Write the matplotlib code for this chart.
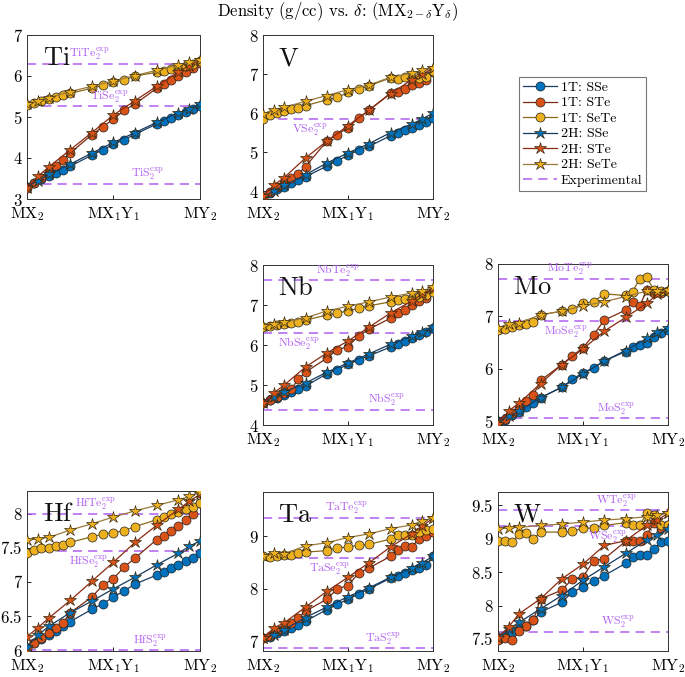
import matplotlib
matplotlib.use("Agg")
import matplotlib.pyplot as plt
from matplotlib.lines import Line2D
from matplotlib.ticker import FuncFormatter

plt.rcParams['mathtext.fontset'] = 'cm'
plt.rcParams['font.family'] = ['DejaVu Serif']

# ---------------- data ----------------
delta_1t = [0, 1/12, 2/12, 3/12, 4/12, 5/12, 6/12, 0.75, 0.875, 1.0, 1.125, 1.25,
            1.5, 19/12, 20/12, 21/12, 22/12, 23/12, 2.0]
delta_2h = [0, 0.125, 0.25, 0.5, 0.75, 1.0, 1.25, 1.5, 1.75, 1.875, 2.0]

xtick_pos = [0, 1, 2]
xtick_labels = [r'$\mathrm{MX_2}$', r'$\mathrm{MX_1Y_1}$', r'$\mathrm{MY_2}$']

series_labels = ['1T: SSe', '1T: STe', '1T: SeTe', '2H: SSe', '2H: STe', '2H: SeTe']

# Ti
ti_1t_sse = [3.30, 3.40, 3.48, 3.55, 3.63, 3.71, 3.80, 4.07, 4.20, 4.33, 4.45, 4.58, 4.83, 4.90, 4.98, 5.05, 5.13, 5.20, 5.28]
ti_1t_ste = [3.26, 3.38, 3.52, 3.66, 3.80, 3.95, 4.12, 4.57, 4.76, 4.95, 5.16, 5.32, 5.70, 5.81, 5.90, 6.00, 6.10, 6.20, 6.31]
ti_1t_sete = [5.30, 5.35, 5.40, 5.44, 5.49, 5.53, 5.58, 5.70, 5.77, 5.85, 5.90, 6.00, 6.09, 6.12, 6.16, 6.20, 6.24, 6.30, 6.37]
ti_2h_sse = [3.30, 3.45, 3.60, 3.85, 4.12, 4.38, 4.62, 4.87, 5.10, 5.20, 5.32]
ti_2h_ste = [3.28, 3.55, 3.78, 4.20, 4.62, 5.05, 5.40, 5.75, 6.10, 6.25, 6.38]
ti_2h_sete = [5.32, 5.38, 5.47, 5.62, 5.75, 5.88, 6.01, 6.14, 6.27, 6.33, 6.40]
ti_exp = {'TiS': 3.37, 'TiSe': 5.26, 'TiTe': 6.30}

# V
v_1t_sse = [3.85, 3.95, 4.05, 4.12, 4.20, 4.28, 4.37, 4.64, 4.78, 4.92, 5.05, 5.15, 5.42, 5.50, 5.57, 5.62, 5.70, 5.78, 5.87]
v_1t_ste = [3.82, 3.98, 4.10, 4.22, 4.33, 4.45, 4.63, 5.28, 5.45, 5.63, 5.87, 6.08, 6.51, 6.55, 6.61, 6.72, 6.78, 6.85, 7.05]
v_1t_sete = [5.86, 5.96, 6.00, 6.06, 6.10, 6.14, 6.19, 6.34, 6.40, 6.53, 6.61, 6.70, 6.90, 6.88, 6.92, 6.90, 6.90, 6.92, 7.08]
v_2h_sse = [3.85, 4.00, 4.15, 4.42, 4.72, 4.98, 5.22, 5.50, 5.72, 5.85, 6.00]
v_2h_ste = [3.88, 4.15, 4.35, 4.85, 5.28, 5.68, 6.08, 6.50, 6.85, 7.00, 7.15]
v_2h_sete = [5.98, 6.08, 6.15, 6.30, 6.45, 6.60, 6.72, 6.92, 7.02, 7.10, 7.15]
v_exp = {'VSe': 5.85}

# Nb
nb_1t_sse = [4.55, 4.62, 4.68, 4.75, 4.82, 4.90, 4.97, 5.28, 5.38, 5.52, 5.63, 5.73, 5.95, 6.03, 6.10, 6.17, 6.25, 6.32, 6.42]
nb_1t_ste = [4.55, 4.62, 4.70, 4.80, 4.90, 5.15, 5.32, 5.67, 5.88, 5.96, 6.23, 6.40, 6.67, 6.80, 6.88, 7.00, 7.10, 7.18, 7.35]
nb_1t_sete = [6.45, 6.47, 6.50, 6.52, 6.55, 6.58, 6.62, 6.75, 6.80, 6.85, 6.92, 6.98, 7.08, 7.12, 7.15, 7.17, 7.20, 7.25, 7.32]
nb_2h_sse = [4.57, 4.70, 4.82, 5.05, 5.32, 5.55, 5.78, 6.02, 6.22, 6.33, 6.45]
nb_2h_ste = [4.55, 4.80, 5.00, 5.45, 5.80, 6.10, 6.45, 6.80, 7.10, 7.28, 7.40]
nb_2h_sete = [6.47, 6.52, 6.57, 6.68, 6.85, 6.97, 7.08, 7.20, 7.30, 7.35, 7.45]
nb_exp = {'NbS': 4.38, 'NbSe': 6.29, 'NbTe': 7.62}

# Mo
mo_1t_sse = [5.00, 5.03, 5.12, 5.18, 5.27, 5.35, 5.45, 5.65, 5.80, 5.93, 6.02, 6.15, 6.33, 6.42, 6.45, 6.50, 6.60, 6.68, 6.75]
mo_1t_ste = [4.98, 5.05, 5.15, 5.25, 5.38, 5.50, 5.78, 6.08, 6.25, 6.40, 6.65, 6.93, 7.12, 7.28, 7.20, 7.50, 7.45, 7.45, 7.48]
mo_1t_sete = [6.74, 6.77, 6.80, 6.83, 6.86, 6.90, 7.03, 7.10, 7.14, 7.25, 7.28, 7.43, 7.40, 7.47, 7.72, 7.75, 7.50, 7.48, 7.48]
mo_2h_sse = [5.00, 5.10, 5.20, 5.45, 5.65, 5.90, 6.15, 6.35, 6.58, 6.70, 6.78]
mo_2h_ste = [4.95, 5.20, 5.35, 5.72, 6.08, 6.38, 6.72, 6.98, 7.25, 7.42, 7.48]
mo_2h_sete = [6.78, 6.85, 6.88, 7.03, 7.10, 7.20, 7.28, 7.38, 7.48, 7.48, 7.50]
mo_exp = {'MoS': 5.06, 'MoSe': 6.91, 'MoTe': 7.72}

# Hf
hf_1t_sse = [6.03, 6.10, 6.17, 6.22, 6.28, 6.35, 6.42, 6.60, 6.68, 6.78, 6.87, 6.97, 7.10, 7.15, 7.20, 7.25, 7.30, 7.35, 7.42]
hf_1t_ste = [6.03, 6.10, 6.18, 6.25, 6.32, 6.40, 6.55, 6.78, 6.95, 7.05, 7.22, 7.35, 7.62, 7.67, 7.75, 7.82, 7.90, 8.00, 8.15]
hf_1t_sete = [7.42, 7.47, 7.49, 7.50, 7.52, 7.54, 7.58, 7.66, 7.70, 7.72, 7.75, 7.81, 7.91, 7.95, 7.99, 8.02, 8.06, 8.10, 8.16]
hf_2h_sse = [6.05, 6.22, 6.35, 6.55, 6.72, 6.90, 7.07, 7.25, 7.42, 7.52, 7.60]
hf_2h_ste = [6.20, 6.33, 6.47, 6.73, 7.01, 7.29, 7.58, 7.83, 8.06, 8.18, 8.28]
hf_2h_sete = [7.61, 7.63, 7.65, 7.76, 7.85, 7.95, 8.04, 8.12, 8.20, 8.25, 8.32]
hf_exp = {'HfS': 6.00, 'HfSe': 7.45, 'HfTe': 8.00}

# Ta
ta_1t_sse = [7.05, 7.08, 7.15, 7.20, 7.25, 7.30, 7.38, 7.60, 7.70, 7.80, 7.90, 8.00, 8.20, 8.25, 8.30, 8.35, 8.40, 8.45, 8.62]
ta_1t_ste = [7.05, 7.10, 7.20, 7.25, 7.35, 7.45, 7.57, 7.80, 8.00, 8.06, 8.30, 8.40, 8.62, 8.75, 8.82, 8.80, 8.95, 9.00, 9.08]
ta_1t_sete = [8.62, 8.60, 8.62, 8.64, 8.65, 8.68, 8.70, 8.73, 8.78, 8.80, 8.83, 8.85, 8.95, 9.02, 9.03, 9.03, 9.08, 9.13, 9.15]
ta_2h_sse = [7.05, 7.12, 7.22, 7.45, 7.65, 7.85, 8.02, 8.22, 8.40, 8.50, 8.62]
ta_2h_ste = [7.05, 7.25, 7.35, 7.65, 7.95, 8.22, 8.50, 8.80, 9.05, 9.20, 9.35]
ta_2h_sete = [8.62, 8.68, 8.67, 8.82, 8.88, 8.98, 9.05, 9.15, 9.22, 9.30, 9.35]
ta_exp = {'TaS': 6.86, 'TaSe': 8.58, 'TaTe': 9.36}

# W
w_1t_sse = [7.50, 7.55, 7.60, 7.65, 7.70, 7.78, 7.90, 8.05, 8.20, 8.28, 8.37, 8.45, 8.63, 8.73, 8.75, 8.76, 8.85, 8.95, 8.97]
w_1t_ste = [7.48, 7.52, 7.48, 7.62, 7.70, 7.78, 8.10, 8.23, 8.40, 8.43, 8.67, 8.70, 8.96, 8.97, 8.96, 9.06, 9.23, 9.16, 9.20]
w_1t_sete = [8.97, 8.97, 8.95, 9.07, 9.08, 9.00, 9.10, 9.10, 9.11, 9.16, 9.16, 9.20, 9.24, 9.20, 9.20, 9.38, 9.35, 9.20, 9.20]
w_2h_sse = [7.55, 7.65, 7.75, 7.95, 8.15, 8.38, 8.58, 8.78, 8.98, 9.05, 9.15]
w_2h_ste = [7.52, 7.68, 7.88, 8.10, 8.40, 8.62, 8.90, 8.97, 9.20, 9.28, 9.38]
w_2h_sete = [9.15, 9.16, 9.17, 9.20, 9.22, 9.25, 9.28, 9.30, 9.33, 9.36, 9.38]
w_exp = {'WS': 7.61, 'WSe': 9.19, 'WTe': 9.43}

# ---------------- style ----------------
face = ['#0072BD', '#D95319', '#EDB120']
line_1t = ['#1A3E66', '#7A2A12', '#8A6A18']
line_2h = ['#163A5E', '#8A2A10', '#9A7A3A']
exp_color = '#B05FF0'

# panel layout in pixels: (left, top, right, bottom)
W_PX, H_PX = 685, 677
panels = [
    ('Ti', (27, 35, 200, 199), (3, 7), [3, 4, 5, 6, 7],
     [ti_1t_sse, ti_1t_ste, ti_1t_sete, ti_2h_sse, ti_2h_ste, ti_2h_sete],
     [('TiTe', ti_exp['TiTe'], 0.72, 'above'), ('TiSe', ti_exp['TiSe'], 0.95, 'above'), ('TiS', ti_exp['TiS'], 1.40, 'above')]),
    ('V', (263, 35, 433, 199), (3.8, 8), [4, 5, 6, 7, 8],
     [v_1t_sse, v_1t_ste, v_1t_sete, v_2h_sse, v_2h_ste, v_2h_sete],
     [('VSe', v_exp['VSe'], 0.55, 'below')]),
    ('Nb', (263, 265, 433, 425), (4, 8), [4, 5, 6, 7, 8],
     [nb_1t_sse, nb_1t_ste, nb_1t_sete, nb_2h_sse, nb_2h_ste, nb_2h_sete],
     [('NbTe', nb_exp['NbTe'], 0.88, 'above'), ('NbSe', nb_exp['NbSe'], 0.43, 'below'), ('NbS', nb_exp['NbS'], 1.45, 'above')]),
    ('Mo', (498, 264, 668, 425), (4.93, 8), [5, 6, 7, 8],
     [mo_1t_sse, mo_1t_ste, mo_1t_sete, mo_2h_sse, mo_2h_ste, mo_2h_sete],
     [('MoTe', mo_exp['MoTe'], 0.84, 'above'), ('MoSe', mo_exp['MoSe'], 0.80, 'below'), ('MoS', mo_exp['MoS'], 1.39, 'above')]),
    ('Hf', (27, 491, 200, 651), (5.99, 8.33), [6, 6.5, 7, 7.5, 8],
     [hf_1t_sse, hf_1t_ste, hf_1t_sete, hf_2h_sse, hf_2h_ste, hf_2h_sete],
     [('HfTe', hf_exp['HfTe'], 0.79, 'above'), ('HfSe', hf_exp['HfSe'], 0.71, 'below'), ('HfS', hf_exp['HfS'], 1.42, 'above')]),
    ('Ta', (263, 492, 433, 651), (6.81, 9.85), [7, 8, 9],
     [ta_1t_sse, ta_1t_ste, ta_1t_sete, ta_2h_sse, ta_2h_ste, ta_2h_sete],
     [('TaTe', ta_exp['TaTe'], 0.98, 'above'), ('TaSe', ta_exp['TaSe'], 0.78, 'below'), ('TaS', ta_exp['TaS'], 1.41, 'above')]),
    ('W', (498, 492, 668, 651), (7.32, 9.7), [7.5, 8, 8.5, 9, 9.5],
     [w_1t_sse, w_1t_ste, w_1t_sete, w_2h_sse, w_2h_ste, w_2h_sete],
     [('WTe', w_exp['WTe'], 1.39, 'above'), ('WSe', w_exp['WSe'], 1.29, 'below'), ('WS', w_exp['WS'], 1.41, 'above')]),
]

fig = plt.figure(figsize=(6.85, 6.77), dpi=100)

fmt = FuncFormatter(lambda v, p: r'$%g$' % v)

for name, (l, t, r, b), ylim, yticks, series, exps in panels:
    ax = fig.add_axes([l / W_PX, 1 - b / H_PX, (r - l) / W_PX, (b - t) / H_PX])
    for i in range(3):
        ax.plot(delta_1t, series[i], '-o', color=line_1t[i], lw=0.9,
                markerfacecolor=face[i], markeredgecolor='#222222', markeredgewidth=0.5,
                markersize=6.5, zorder=3)
    for i in range(3):
        ax.plot(delta_2h, series[3 + i], '-*', color=line_2h[i], lw=0.9,
                markerfacecolor=face[i], markeredgecolor='#3a2a10', markeredgewidth=0.5,
                markersize=9, zorder=3)
    for comp, val, xpos, where in exps:
        ax.axhline(val, color=exp_color, ls=(0, (6, 4)), lw=1.1, zorder=2)
        lab = r'$\mathrm{%s_2^{exp}}$' % comp
        if where == 'above':
            ax.annotate(lab, (xpos, val), xytext=(0, 1), textcoords='offset points',
                        ha='center', va='bottom', color=exp_color, fontsize=8.5)
        else:
            ax.annotate(lab, (xpos, val), xytext=(0, -1.5), textcoords='offset points',
                        ha='center', va='top', color=exp_color, fontsize=8.5)
    ax.text(0.09, 0.86, r'$\mathrm{%s}$' % name, transform=ax.transAxes,
            fontsize=19, ha='left', va='center', color='#111111', zorder=5)
    ax.set_xlim(0, 2)
    ax.set_ylim(*ylim)
    ax.set_xticks(xtick_pos)
    ax.set_xticklabels(xtick_labels)
    ax.set_yticks(yticks)
    ax.yaxis.set_major_formatter(fmt)
    ax.tick_params(direction='in', labelsize=12, length=3, width=0.6, pad=3)
    ax.tick_params(axis='x', pad=4.5, labelsize=11.5)
    for s in ax.spines.values():
        s.set_linewidth(0.7)
        s.set_color('#333333')

fig.text(337 / W_PX, 1 - 12 / H_PX,
         r'Density (g/cc) vs. $\delta$: (MX$_{2-\delta}$Y$_{\delta}$)',
         ha='center', va='center', fontsize=12, fontfamily='cmr10')

handles = []
for i in range(3):
    handles.append(Line2D([], [], color=line_1t[i], marker='o', markerfacecolor=face[i],
                          markeredgecolor='#222222', markeredgewidth=0.5, markersize=6.5, lw=0.9))
for i in range(3):
    handles.append(Line2D([], [], color=line_2h[i], marker='*', markerfacecolor=face[i],
                          markeredgecolor='#3a2a10', markeredgewidth=0.5, markersize=9, lw=0.9))
handles.append(Line2D([], [], color=exp_color, ls=(0, (6, 4)), lw=1.1))
labels = series_labels + ['Experimental']

leg = fig.legend(handles, labels, loc='upper left', bbox_to_anchor=(519 / W_PX, 1 - 77 / H_PX),
                 prop={'family': 'cmr10', 'size': 10}, frameon=True, fancybox=False,
                 edgecolor='#555555',
                 handlelength=2.4, handletextpad=0.3, labelspacing=0.2, borderpad=0.3,
                 borderaxespad=0)
leg.get_frame().set_linewidth(0.8)

fig.savefig('out.png', dpi=100)
